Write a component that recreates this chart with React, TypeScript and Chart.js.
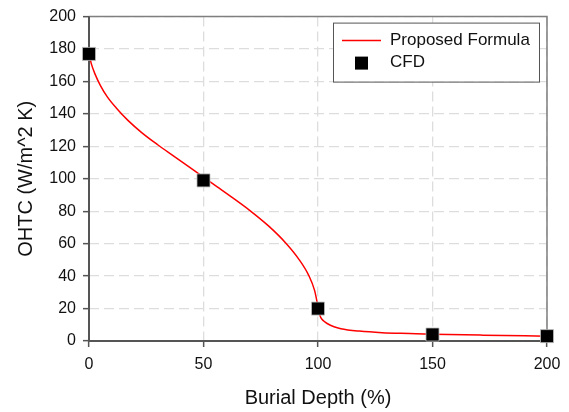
import React, { useEffect, useRef } from "react";
import { Chart, registerables } from "chart.js";

Chart.register(...registerables);

const formulaX = [0, 1, 2.5, 5, 8, 12, 17, 23, 30, 37, 44, 50, 56, 62, 70, 78.5, 85.8, 91.6, 96, 98.5, 99.6, 100.2, 100.7, 101.3, 102.5, 104, 107, 110, 118, 128, 140, 150, 172, 200];
const formulaY = [177, 171, 165, 157.5, 150.5, 143.5, 136, 128.5, 121, 114, 107, 101, 95, 89, 80.7, 70.8, 60.6, 50.5, 40.3, 31.2, 24, 19.5, 16.5, 14.3, 12.3, 10.8, 8.8, 7.6, 6.1, 5.1, 4.6, 4.2, 3.6, 3.0];

const cfdX = [0, 50, 100, 150, 200];
const cfdY = [177, 99, 20, 4, 3];

const xTicks = [0, 50, 100, 150, 200];
const yTicks = [0, 20, 40, 60, 80, 100, 120, 140, 160, 180, 200];

const FONT = "'Liberation Sans', Arial, sans-serif";

const framePlugin = {
  id: "frame",
  beforeDatasetsDraw(chart: any) {
    const { ctx, chartArea } = chart;
    ctx.save();
    ctx.strokeStyle = "#7f7f7f";
    ctx.lineWidth = 1.5;
    ctx.beginPath();
    ctx.moveTo(chartArea.left, chartArea.top);
    ctx.lineTo(chartArea.right, chartArea.top);
    ctx.lineTo(chartArea.right, chartArea.bottom);
    ctx.stroke();
    ctx.strokeStyle = "#555555";
    ctx.lineWidth = 2;
    ctx.beginPath();
    ctx.moveTo(chartArea.left, chartArea.top);
    ctx.lineTo(chartArea.left, chartArea.bottom);
    ctx.lineTo(chartArea.right, chartArea.bottom);
    ctx.stroke();
    ctx.restore();
  },
};

const legendPlugin = {
  id: "insideLegend",
  afterDraw(chart: any) {
    const { ctx, chartArea } = chart;
    const ds = chart.data.datasets;
    const w = 206;
    const h = 59;
    const x = chartArea.right - 8 - w;
    const y = chartArea.top + 6;
    ctx.save();
    ctx.fillStyle = "#ffffff";
    ctx.fillRect(x, y, w, h);
    ctx.strokeStyle = "#555555";
    ctx.lineWidth = 1;
    ctx.strokeRect(x + 0.5, y + 0.5, w, h);
    ctx.strokeStyle = ds[0].borderColor;
    ctx.lineWidth = 1.5;
    ctx.beginPath();
    ctx.moveTo(x + 9, y + 18);
    ctx.lineTo(x + 48, y + 18);
    ctx.stroke();
    ctx.fillStyle = "#000000";
    ctx.fillRect(x + 22, y + 34, 13, 13);
    ctx.fillStyle = "#111111";
    ctx.font = "17px " + FONT;
    ctx.textBaseline = "middle";
    ctx.textAlign = "left";
    ctx.fillText(ds[0].label, x + 57, y + 18);
    ctx.fillText(ds[1].label, x + 57, y + 40);
    ctx.restore();
  },
};

export default function App() {
  const ref = useRef<HTMLCanvasElement>(null);
  useEffect(() => {
    document.body.style.margin = "0";
    const chart = new Chart(ref.current!, {
      type: "scatter",
      data: {
        datasets: [
          {
            label: "Proposed Formula",
            data: formulaX.map((x, i) => ({ x, y: formulaY[i] })),
            showLine: true,
            borderColor: "#ff0000",
            borderWidth: 1.5,
            pointRadius: 0,
            cubicInterpolationMode: "monotone",
            order: 2,
          },
          {
            label: "CFD",
            data: cfdX.map((x, i) => ({ x, y: cfdY[i] })),
            showLine: false,
            pointStyle: "rect",
            pointRadius: 9.2,
            backgroundColor: "#000000",
            borderColor: "#bbbbbb",
            borderWidth: 0.8,
            clip: false,
            order: 1,
          },
        ],
      },
      options: {
        responsive: false,
        animation: false,
        layout: { padding: { left: 0, top: 12, right: 22, bottom: 0 } },
        plugins: { legend: { display: false }, tooltip: { enabled: false } },
        scales: {
          x: {
            type: "linear",
            min: 0,
            max: 200,
            afterBuildTicks: (s: any) => {
              s.ticks = xTicks.map((v) => ({ value: v }));
            },
            afterFit: (s: any) => {
              s.height = 71;
            },
            ticks: {
              color: "#111111",
              font: { family: FONT, size: 16 },
              padding: 8,
              maxRotation: 0,
            },
            grid: {
              color: "#dddddd",
              lineWidth: 1.3,
              tickLength: 6,
              tickColor: "#555555",
              tickWidth: 1.5,
            },
            border: { display: false, dash: [10, 5] },
            title: {
              display: true,
              text: "Burial Depth (%)",
              color: "#111111",
              font: { family: FONT, size: 20 },
              padding: { top: 0, bottom: 2 },
            },
          },
          y: {
            type: "linear",
            min: 0,
            max: 200,
            afterBuildTicks: (s: any) => {
              s.ticks = yTicks.map((v) => ({ value: v }));
            },
            afterFit: (s: any) => {
              s.width = 89;
            },
            ticks: {
              color: "#111111",
              font: { family: FONT, size: 16 },
              padding: 7,
            },
            grid: {
              color: "#dddddd",
              lineWidth: 1.3,
              tickLength: 6,
              tickColor: "#555555",
              tickWidth: 1.5,
            },
            border: { display: false, dash: [10, 5] },
            title: {
              display: true,
              text: "OHTC (W/m^2 K)",
              color: "#111111",
              font: { family: FONT, size: 20 },
              padding: { top: 14, bottom: 0 },
            },
          },
        },
      },
      plugins: [framePlugin, legendPlugin],
    } as any);
    return () => chart.destroy();
  }, []);
  return <canvas ref={ref} width={569} height={412} style={{ display: "block" }} />;
}
